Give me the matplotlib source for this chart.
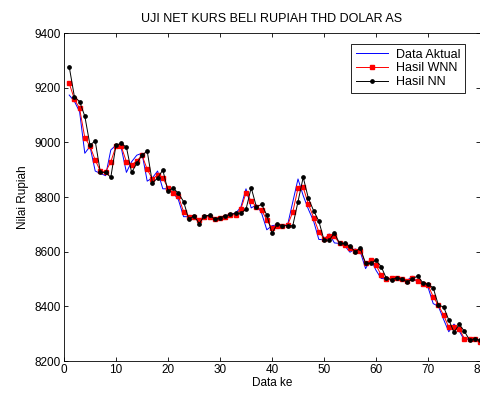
import numpy as np
import matplotlib
matplotlib.use("Agg")
import matplotlib.pyplot as plt

plt.rcParams['font.family'] = ['Liberation Sans', 'DejaVu Sans']

# data ke 1..80
aktual = [9173, 9150, 9112, 8960, 8985, 8895, 8886, 8878, 8972, 8990,
          8981, 8890, 8929, 8953, 8960, 8858, 8870, 8895, 8830, 8830,
          8815, 8790, 8728, 8728, 8733, 8710, 8733, 8728, 8718, 8724,
          8730, 8738, 8741, 8762, 8830, 8760, 8771, 8741, 8680, 8695,
          8698, 8696, 8698, 8782, 8866, 8805, 8755, 8712, 8645, 8643,
          8665, 8632, 8630, 8621, 8598, 8610, 8598, 8538, 8573, 8532,
          8502, 8500, 8502, 8503, 8498, 8495, 8510, 8486, 8483, 8470,
          8410, 8400, 8352, 8307, 8335, 8310, 8276, 8282, 8282, 8272]

hasil_wnn = [9216, 9158, 9124, 9017, 8986, 8935, 8895, 8892, 8929, 8986,
             8986, 8929, 8917, 8932, 8953, 8901, 8866, 8880, 8870, 8833,
             8816, 8803, 8746, 8728, 8728, 8716, 8728, 8728, 8719, 8722,
             8728, 8735, 8735, 8755, 8815, 8786, 8764, 8752, 8716, 8685,
             8695, 8695, 8697, 8745, 8832, 8835, 8774, 8725, 8673, 8648,
             8659, 8656, 8630, 8624, 8612, 8602, 8603, 8557, 8569, 8551,
             8514, 8500, 8502, 8502, 8499, 8492, 8502, 8492, 8483, 8478,
             8435, 8404, 8368, 8323, 8323, 8318, 8282, 8280, 8282, 8271]

hasil_nn = [9277, 9167, 9149, 9096, 8990, 9005, 8890, 8890, 8872, 8990,
            8996, 8982, 8890, 8923, 8953, 8968, 8852, 8869, 8899, 8822,
            8832, 8814, 8783, 8719, 8731, 8703, 8731, 8733, 8719, 8724,
            8731, 8736, 8740, 8741, 8755, 8834, 8764, 8773, 8734, 8667,
            8701, 8695, 8695, 8695, 8783, 8872, 8795, 8750, 8712, 8643,
            8642, 8669, 8630, 8630, 8620, 8600, 8612, 8557, 8557, 8569,
            8545, 8502, 8498, 8504, 8499, 8490, 8499, 8512, 8486, 8480,
            8468, 8404, 8398, 8350, 8305, 8334, 8309, 8276, 8282, 8276]

x = np.arange(1, len(aktual) + 1)

fig = plt.figure(figsize=(4.81, 3.94), dpi=100)
ax = fig.add_axes([64/481, 1 - 361/394, 416/481, 328/394])

ax.plot(x, aktual, color='#0000ff', lw=0.7, label='Data Aktual')
ax.plot(x, hasil_wnn, color='red', lw=0.7, marker='s', ms=2.4, label='Hasil WNN')
ax.plot(x, hasil_nn, color='black', lw=0.7, marker='o', ms=2.4, label='Hasil NN')

ax.set_xlim(0, 80)
ax.set_ylim(8200, 9400)
ax.set_xticks(range(0, 81, 10))
ax.set_yticks(range(8200, 9401, 200))
ax.tick_params(direction='in', top=True, right=True, length=3, width=0.6,
               labelsize=8.5, pad=2)
for s in ax.spines.values():
    s.set_linewidth(0.6)

ax.set_title('UJI NET KURS BELI RUPIAH THD DOLAR AS', fontsize=9, pad=8)
ax.set_xlabel('Data ke', fontsize=8.5, labelpad=1)
ax.set_ylabel('Nilai Rupiah', fontsize=8.5, labelpad=4)

leg = ax.legend(loc='upper right', fontsize=9, fancybox=False, framealpha=1,
                edgecolor='black', borderpad=0.35, labelspacing=0.15,
                handlelength=2.6, handletextpad=0.6,
                bbox_to_anchor=(0.978, 0.985))
leg.get_frame().set_linewidth(0.6)

fig.savefig('out.png', dpi=100)
